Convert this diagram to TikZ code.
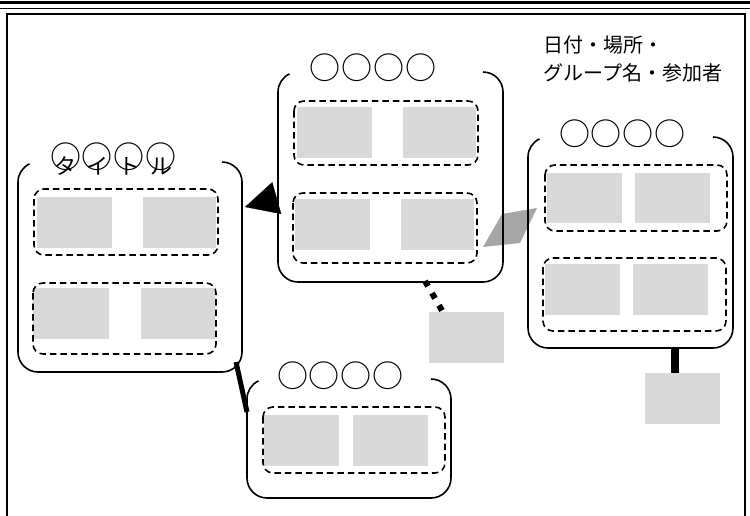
\documentclass[tikz,border=0pt]{standalone}
\usepackage{fontspec}
\newfontfamily\jp{Noto Sans CJK JP}
\usetikzlibrary{arrows.meta,calc}
\definecolor{boxgray}{HTML}{D9D9D9}
\definecolor{arrgray}{HTML}{A6A6A6}
\tikzset{
  boxline/.style={line width=1.6pt, line join=round},
  dashbox/.style={line width=1.6pt, dash pattern=on 6.5pt off 4pt, rounded corners=10pt},
  graybox/.style={fill=boxgray, draw=none, inner sep=0pt, minimum width=75pt, minimum height=51pt},
  circtitle/.style={font=\jp\fontsize{31}{31}\selectfont, inner sep=0pt},
  katatitle/.style={font=\jp\fontsize{22}{22}\selectfont, inner sep=0pt},
  infotext/.style={font=\jp\fontsize{20}{20}\selectfont, inner sep=0pt, anchor=west},
}
\newcommand\circrow{\makebox[32pt]{○}\makebox[32pt]{○}\makebox[32pt]{○}\makebox[32pt]{○}}
% open-top rounded box: L T R B
\newcommand\openbox[4]{%
  \draw[boxline] ({#1+20},{#2+20}) ++(245:20) arc[start angle=245,end angle=180,radius=20]
    -- (#1,{#4-20}) arc[start angle=180,end angle=90,radius=20]
    -- ({#3-20},#4) arc[start angle=90,end angle=0,radius=20]
    -- (#3,{#2+20}) arc[start angle=0,end angle=-90,radius=20];}
\begin{document}
\begin{tikzpicture}[x=1pt,y=-1pt]
\useasboundingbox (0,0) rectangle (750,515);
\fill[white] (0,0) rectangle (750,515);
% frame
\draw[line width=3pt] (0,2.5) -- (750,2.5);
\draw[line width=1pt] (0,8.5) -- (750,8.5);
\draw[line width=1.8pt] (7,516) -- (7,14) -- (745,14) -- (745,516);

% gray parallelogram connector (under boxes)
\coordinate (pa) at (483,247);
\coordinate (pb) at (502,214);
\coordinate (pc) at (537,208);
\coordinate (pd) at (520,243);
\fill[arrgray] (pa) -- (pb) -- (pc) -- (pd) -- cycle;

% ---------- left box ----------
\fill[boxgray] (37,197) rectangle (112,248);
\fill[boxgray] (143,197) rectangle (216,248);
\fill[boxgray] (33,288) rectangle (109,339);
\fill[boxgray] (141,288) rectangle (215,339);
\draw[dashbox] (34,189) rectangle (218,255);
\draw[dashbox] (33,283) rectangle (216,354);
\openbox{18}{162}{242}{372}
\node[circtitle] (tl) at (113.5,157) {\circrow};
\node[katatitle] (tlk) at (113.5,166) {\makebox[32pt]{タ}\makebox[32pt]{イ}\makebox[32pt]{ト}\makebox[32pt]{ル}};

% ---------- middle box ----------
\fill[boxgray] (297,107) rectangle (372,158);
\fill[boxgray] (403,107) rectangle (476,158);
\fill[boxgray] (295,199) rectangle (370,250);
\fill[boxgray] (401,199) rectangle (474,250);
\draw[dashbox] (294,101) rectangle (478,165);
\draw[dashbox] (293,193) rectangle (477,263);
\openbox{278}{72}{503}{282}
\node[circtitle] (tm) at (373,67.5) {\circrow};

% ---------- right box ----------
\fill[boxgray] (547,173) rectangle (622,223);
\fill[boxgray] (635,173) rectangle (710,223);
\fill[boxgray] (545,264) rectangle (620,315);
\fill[boxgray] (633,264) rectangle (708,315);
\draw[dashbox] (545,165) rectangle (727,231);
\draw[dashbox] (543,258) rectangle (726,331);
\openbox{528}{137}{733}{348}
\node[circtitle] (tr) at (622.5,134) {\circrow};
\node[infotext] (info1) at (543,45) {日付・場所・};
\node[infotext] (info2) at (543,73) {グループ名・参加者};

% ---------- bottom box ----------
\fill[boxgray] (264,415) rectangle (339,466);
\fill[boxgray] (353,415) rectangle (428,466);
\draw[dashbox] (263,407) rectangle (445,473);
\openbox{247}{379}{451}{498}
\node[circtitle] (tb) at (340.5,376) {\circrow};

% ---------- standalone gray boxes ----------
\node[graybox] (g1) at (466.5,337.5) {};
\node[graybox] (g2) at (682.5,398.5) {};

% ---------- connectors ----------
\coordinate (midL) at (277,198);
\coordinate (leftR) at (245,207);
\draw[line width=0.3pt, -{Triangle[length=33pt,width=33pt]}] (midL) -- (leftR);

\coordinate (leftBR) at (236,362);
\coordinate (botTL) at (247,412);
\draw[line width=5pt] (leftBR) -- (botTL);

\coordinate (midB) at (425,281);
\coordinate (g1top) at (444,314);
\draw[line width=6pt, dash pattern=on 6pt off 8pt] (midB) -- (g1top);

\coordinate (rightB) at (675,348);
\draw[line width=8pt] (rightB) -- (g2.north -| rightB);
\end{tikzpicture}
\end{document}
